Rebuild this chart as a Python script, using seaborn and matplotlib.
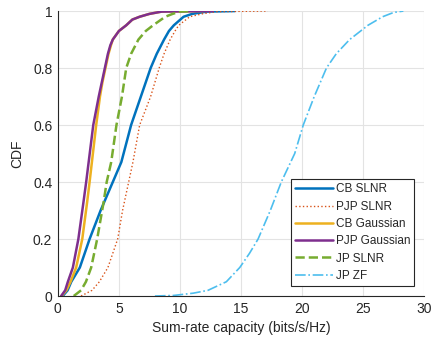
import numpy as np
import pandas as pd
import matplotlib
matplotlib.use('Agg')
import matplotlib.pyplot as plt
import seaborn as sns

# =====================
# DATA
# =====================
cb_slnr_x = [0.4, 0.8, 1.1, 1.8, 2.6, 3.5, 4.5, 5.2, 6.0, 6.8, 7.6, 8.1, 8.7, 9.1, 9.5, 10.3, 11.0, 12.2, 14.5]
cb_slnr_y = [0, 0.02, 0.05, 0.1, 0.2, 0.3, 0.4, 0.47, 0.6, 0.7, 0.8, 0.85, 0.9, 0.93, 0.95, 0.98, 0.99, 0.998, 1]

pjp_slnr_x = [1.9, 2.8, 3.4, 4.1, 4.9, 5.3, 5.8, 6.15, 6.7, 7.6, 8.3, 8.7, 9.2, 9.6, 9.9, 10.8, 11.8, 13.0, 17.2]
pjp_slnr_y = [0, 0.02, 0.05, 0.1, 0.2, 0.3, 0.4, 0.47, 0.6, 0.7, 0.8, 0.85, 0.9, 0.93, 0.95, 0.98, 0.99, 0.998, 1]

cb_gauss_x = [0.3, 0.7, 1.04, 1.5, 2.0, 2.4, 2.6, 3.14, 3.45, 3.65, 3.9, 4.15, 4.35, 4.5, 5.0, 5.6, 6.1, 6.7, 7.5, 8.5, 12.0]
cb_gauss_y = [0, 0.02, 0.05, 0.1, 0.2, 0.33, 0.4, 0.6, 0.7, 0.75, 0.8, 0.85, 0.88, 0.9, 0.93, 0.95, 0.97, 0.98, 0.99, 0.998, 1]

pjp_gauss_x = [0.27, 0.6, 0.82, 1.23, 1.68, 2.1, 2.32, 2.9, 3.35, 3.6, 3.85, 4.1, 4.3, 4.5, 5.0, 5.6, 6.1, 6.7, 7.5, 8.5, 12.7]
pjp_gauss_y = [0, 0.02, 0.05, 0.1, 0.2, 0.33, 0.4, 0.6, 0.7, 0.75, 0.8, 0.85, 0.88, 0.9, 0.93, 0.95, 0.97, 0.98, 0.99, 0.998, 1]

jp_slnr_x = [1.3, 1.9, 2.3, 2.73, 3.22, 3.75, 4.0, 4.37, 4.8, 5.25, 5.6, 6.0, 6.6, 7.2, 7.8, 8.8, 9.4, 10.0, 11.0]
jp_slnr_y = [0, 0.02, 0.05, 0.1, 0.2, 0.33, 0.4, 0.47, 0.6, 0.7, 0.8, 0.85, 0.9, 0.93, 0.95, 0.98, 0.99, 0.998, 1]

jp_zf_x = [7.95, 9.5, 11.1, 12.3, 13.8, 14.9, 15.7, 16.4, 17.4, 18.3, 19.4, 20.1, 21.0, 22.0, 22.8, 23.9, 25.4, 26.6, 27.5, 28.3]
jp_zf_y = [0, 0.002, 0.01, 0.02, 0.05, 0.1, 0.15, 0.2, 0.3, 0.4, 0.5, 0.6, 0.7, 0.8, 0.85, 0.9, 0.95, 0.98, 0.995, 1]

x_ticks = [0, 5, 10, 15, 20, 25, 30]
y_ticks = [0, 0.2, 0.4, 0.6, 0.8, 1]
y_tick_labels = ['0', '0.2', '0.4', '0.6', '0.8', '1']

# =====================
# STYLE
# =====================
sns.set_style('white')
plt.rcParams['font.family'] = ['Liberation Sans', 'DejaVu Sans']
text_col = '#262626'

fig = plt.figure(figsize=(4.35, 3.45), dpi=100)
ax = fig.add_axes([0.133, 0.142, 0.842, 0.826])

series = [
    ('CB SLNR', cb_slnr_x, cb_slnr_y, '#0072BD', '-', 1.8),
    ('PJP SLNR', pjp_slnr_x, pjp_slnr_y, '#D95319', ':', 1.0),
    ('CB Gaussian', cb_gauss_x, cb_gauss_y, '#EDB120', '-', 1.8),
    ('PJP Gaussian', pjp_gauss_x, pjp_gauss_y, '#7E2F8E', '-', 1.8),
    ('JP SLNR', jp_slnr_x, jp_slnr_y, '#77AC30', '--', 1.8),
    ('JP ZF', jp_zf_x, jp_zf_y, '#4DBEEE', '-.', 1.2),
]

for name, xs, ys, col, ls, lw in series:
    sns.lineplot(x=xs, y=ys, ax=ax, color=col, linestyle=ls, linewidth=lw,
                 sort=False, estimator=None, label=name)

ax.set_xlim(0, 30)
ax.set_ylim(0, 1)
ax.set_xticks(x_ticks)
ax.set_yticks(y_ticks)
ax.set_yticklabels(y_tick_labels)

ax.grid(True, color='#e3e3e3', linewidth=0.8)
ax.set_axisbelow(True)
for s in ['top', 'right']:
    ax.spines[s].set_visible(False)
for s in ['left', 'bottom']:
    ax.spines[s].set_color(text_col)
    ax.spines[s].set_linewidth(0.8)
ax.tick_params(direction='in', length=3, width=0.8, colors=text_col,
               labelsize=10, pad=4)

ax.set_xlabel('Sum-rate capacity (bits/s/Hz)', fontsize=10, color=text_col, labelpad=4)
ax.set_ylabel('CDF', fontsize=10, color=text_col, labelpad=6)

leg = ax.legend(loc='lower right', bbox_to_anchor=(0.973, 0.035), fontsize=8.5,
                frameon=True, fancybox=False, framealpha=1, borderpad=0.35,
                labelspacing=0.45, handlelength=3.2, handletextpad=0.2,
                borderaxespad=0)
leg.get_frame().set_edgecolor(text_col)
leg.get_frame().set_linewidth(0.8)
for t in leg.get_texts():
    t.set_color(text_col)

plt.savefig('out.png', dpi=100)
